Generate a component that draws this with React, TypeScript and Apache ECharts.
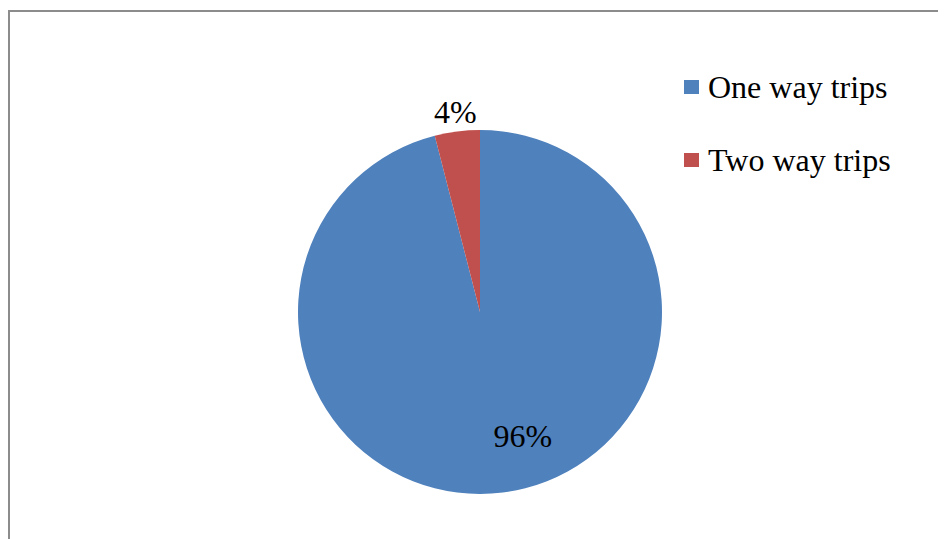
import React, { useEffect, useRef } from "react";
import * as echarts from "echarts";

const categories: string[] = ["One way trips", "Two way trips"];
const values: number[] = [96, 4];
const colors: string[] = ["#4F81BD", "#C0504D"];

export default function App() {
  const ref = useRef<HTMLDivElement>(null);
  useEffect(() => {
    if (!ref.current) return;
    const chart = echarts.init(ref.current, null, { renderer: "svg" });
    const font = "Liberation Serif";
    const shifts = [
      { dx: 31, dy: 31 },
      { dx: -13, dy: -107 },
    ];
    chart.setOption({
      animation: false,
      backgroundColor: "#ffffff",
      color: colors,
      legend: {
        orient: "vertical",
        left: 671,
        top: 56,
        itemWidth: 15,
        itemHeight: 14,
        itemGap: 37,
        icon: "rect",
        selectedMode: false,
        textStyle: {
          fontFamily: font,
          fontSize: 32,
          color: "#000",
          lineHeight: 36,
          padding: [0, 0, 0, 4],
        },
        data: categories,
      },
      graphic: [
        {
          type: "polyline",
          shape: { points: [[1, 531], [1, 3], [938, 3]] },
          style: { stroke: "#8c8c8c", lineWidth: 2, fill: "none" },
          silent: true,
        },
      ],
      series: [
        {
          type: "pie",
          center: [472, 304],
          radius: 182,
          startAngle: 90,
          clockwise: true,
          label: {
            show: true,
            position: "inside",
            formatter: "{d}%",
            fontFamily: font,
            fontSize: 32,
            color: "#000",
          },
          labelLine: { show: false },
          labelLayout: (p: any) => shifts[p.dataIndex],
          emphasis: { disabled: true },
          itemStyle: { borderWidth: 0 },
          data: categories.map((c, i) => ({ name: c, value: values[i] })),
        },
      ],
    });
    return () => chart.dispose();
  }, []);
  return <div ref={ref} style={{ width: 938, height: 531 }} />;
}
